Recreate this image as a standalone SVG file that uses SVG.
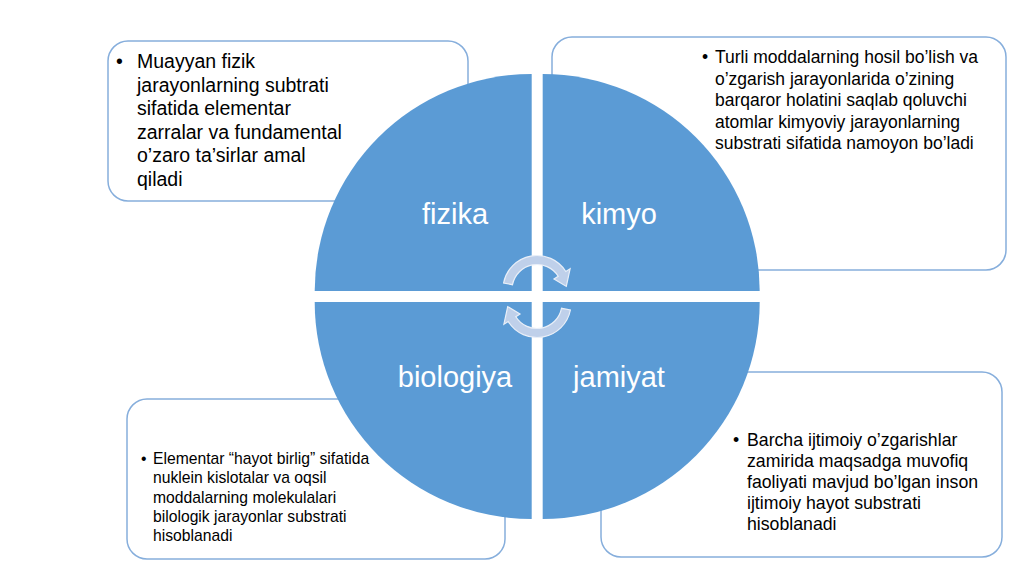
<svg xmlns="http://www.w3.org/2000/svg" width="1024" height="574" viewBox="0 0 1024 574">
<style>
.box{fill:#ffffff;stroke:#86aedc;stroke-width:1.5}
.q{fill:#5b9bd5}
.lbl{font-family:"Liberation Sans",Arial,sans-serif;font-size:29px;fill:#ffffff;text-anchor:middle}
.t{font-family:"Liberation Sans",Arial,sans-serif;fill:#000000}
.arr{fill:#bfd0ea;stroke:#e9eff8;stroke-width:1.2}
</style>
<rect width="1024" height="574" fill="#ffffff"/>
<g id="box-fizika">
<rect class="box" x="108" y="41" width="360" height="160" rx="20"/>
<text class="t" font-size="19.5">
<tspan x="116" y="68">•</tspan>
<tspan x="137" y="68">Muayyan fizik</tspan>
<tspan x="137" y="91.5">jarayonlarning subtrati</tspan>
<tspan x="137" y="115">sifatida elementar</tspan>
<tspan x="137" y="138.5">zarralar va fundamental</tspan>
<tspan x="137" y="162">o’zaro ta’sirlar amal</tspan>
<tspan x="137" y="185.5">qiladi</tspan>
</text>
</g>
<g id="box-kimyo">
<rect class="box" x="552" y="37" width="454" height="233" rx="20"/>
<text class="t" font-size="17.5">
<tspan x="702" y="63">•</tspan>
<tspan x="715" y="63">Turli moddalarning hosil bo’lish va</tspan>
<tspan x="715" y="84.5">o’zgarish jarayonlarida o’zining</tspan>
<tspan x="715" y="106">barqaror holatini saqlab qoluvchi</tspan>
<tspan x="715" y="127.5">atomlar kimyoviy jarayonlarning</tspan>
<tspan x="715" y="149">substrati sifatida namoyon bo’ladi</tspan>
</text>
</g>
<g id="box-biologiya">
<rect class="box" x="127" y="399" width="378" height="160" rx="20"/>
<text class="t" font-size="15.7">
<tspan x="141" y="464">•</tspan>
<tspan x="153" y="464">Elementar “hayot birlig” sifatida</tspan>
<tspan x="153" y="483.3">nuklein kislotalar va oqsil</tspan>
<tspan x="153" y="502.5">moddalarning molekulalari</tspan>
<tspan x="153" y="521.8">bilologik jarayonlar substrati</tspan>
<tspan x="153" y="541">hisoblanadi</tspan>
</text>
</g>
<g id="box-jamiyat">
<rect class="box" x="601" y="372" width="401" height="185" rx="20"/>
<text class="t" font-size="17.7">
<tspan x="733" y="446">•</tspan>
<tspan x="747" y="446">Barcha ijtimoiy o’zgarishlar</tspan>
<tspan x="747" y="467">zamirida maqsadga muvofiq</tspan>
<tspan x="747" y="488">faoliyati mavjud bo’lgan inson</tspan>
<tspan x="747" y="509">ijtimoiy hayot substrati</tspan>
<tspan x="747" y="530">hisoblanadi</tspan>
</text>
</g>
<g id="fizika">
<path class="q" d="M531.7 291 L314.7 291 A217 217 0 0 1 531.7 74 Z"/>
<text class="lbl" x="455" y="223.5">fizika</text>
</g>
<g id="kimyo">
<path class="q" d="M542.7 291 L542.7 74 A217 217 0 0 1 759.7 291 Z"/>
<text class="lbl" x="619" y="223.5">kimyo</text>
</g>
<g id="biologiya">
<path class="q" d="M531.7 302 L531.7 519 A217 217 0 0 1 314.7 302 Z"/>
<text class="lbl" x="455" y="386.5">biologiya</text>
</g>
<g id="jamiyat">
<path class="q" d="M542.7 302 L759.7 302 A217 217 0 0 1 542.7 519 Z"/>
<text class="lbl" x="619" y="386.5">jamiyat</text>
</g>
<g id="connectors">
<path id="arrow-top" class="arr" d="M503.6 283 A34 34 0 0 1 565.8 271.5 L570.1 268.8 L566.3 286.4 L554 278.9 L558.2 276.25 A25 25 0 0 0 512.5 284.7 Z"/>
<path id="arrow-bottom" class="arr" transform="rotate(180 537 296.5)" d="M503.6 283 A34 34 0 0 1 565.8 271.5 L570.1 268.8 L566.3 286.4 L554 278.9 L558.2 276.25 A25 25 0 0 0 512.5 284.7 Z"/>
</g>
</svg>
